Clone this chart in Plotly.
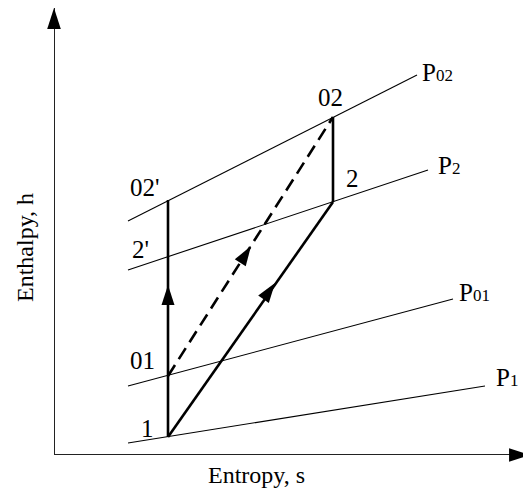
import math
import plotly.graph_objects as go

# State points (entropy s, enthalpy h) in arbitrary units
state_names = ["1", "01", "2'", "02'", "2", "02"]
state_s = [114, 114, 114, 114, 279, 279]
state_h = [18, 79, 198, 255, 253, 338]

# Isobars: start/end (s, h)
isobar_names = ["P02", "P2", "P01", "P1"]
isobar_s0 = [74, 74, 74, 74]
isobar_h0 = [234, 185, 69, 12]
isobar_s1 = [363, 374, 399, 431]
isobar_h1 = [380, 285, 156, 69]
isobar_label_s = [366, 382, 403, 440]
isobar_label_h = [383, 290, 163, 78]
isobar_label_text = ["P<span style='font-size:17px'>02</span>",
                     "P<span style='font-size:17px'>2</span>",
                     "P<span style='font-size:17px'>01</span>",
                     "P<span style='font-size:17px'>1</span>"]

# State label positions
label_s = [93, 88, 86, 91, 298, 276]
label_h = [27, 94, 205, 268, 277, 358]

# Arrow tip positions along processes (s, h)
arrow_tip_s = [114, 221, 197]
arrow_tip_h = [170, 172, 209]

S_MAX = 476
H_MAX = 447

idx = {n: i for i, n in enumerate(state_names)}


def P(n):
    i = idx[n]
    return state_s[i], state_h[i]


fig = go.Figure()
FONT = "Liberation Serif, Times New Roman, serif"


def px(s):
    return s / S_MAX


def py(h):
    return h / H_MAX


# isobars
for i in range(len(isobar_names)):
    fig.add_trace(go.Scatter(x=[isobar_s0[i], isobar_s1[i]], y=[isobar_h0[i], isobar_h1[i]],
                             mode="lines", line=dict(color="black", width=1.1),
                             hoverinfo="skip", showlegend=False))
    fig.add_annotation(x=px(isobar_label_s[i]), y=py(isobar_label_h[i]), xref="paper", yref="paper",
                       text=isobar_label_text[i],
                       showarrow=False, xanchor="left", yanchor="middle",
                       font=dict(family=FONT, size=25, color="black"))

# processes
solid_paths = [("1", "02'"), ("1", "2"), ("2", "02")]
for a, b in solid_paths:
    (x0, y0), (x1, y1) = P(a), P(b)
    fig.add_trace(go.Scatter(x=[x0, x1], y=[y0, y1], mode="lines",
                             line=dict(color="black", width=2.6),
                             hoverinfo="skip", showlegend=False))
(x0, y0), (x1, y1) = P("01"), P("02")
fig.add_trace(go.Scatter(x=[x0, x1], y=[y0, y1], mode="lines",
                         line=dict(color="black", width=2.6, dash="13px,7px"),
                         hoverinfo="skip", showlegend=False))

# arrowheads along the processes
dirs = [("1", "02'"), ("1", "2"), ("01", "02")]
angles = []
for a, b in dirs:
    (x0, y0), (x1, y1) = P(a), P(b)
    angles.append(math.degrees(math.atan2(x1 - x0, y1 - y0)))
fig.add_trace(go.Scatter(x=arrow_tip_s, y=arrow_tip_h, mode="markers",
                         marker=dict(symbol="arrow", size=21, angle=angles, color="black",
                                     line=dict(width=0)),
                         hoverinfo="skip", showlegend=False))

# state labels
for i, n in enumerate(state_names):
    fig.add_annotation(x=px(label_s[i]), y=py(label_h[i]), xref="paper", yref="paper",
                       text=n, showarrow=False,
                       xanchor="center", yanchor="middle",
                       font=dict(family=FONT, size=25, color="black"))

# axes with arrows
fig.add_trace(go.Scatter(x=[0, 0], y=[0, H_MAX], mode="lines",
                         line=dict(color="#222", width=2), hoverinfo="skip", showlegend=False))
fig.add_trace(go.Scatter(x=[0, S_MAX], y=[0, 0], mode="lines",
                         line=dict(color="#222", width=2), hoverinfo="skip", showlegend=False))
fig.add_trace(go.Scatter(x=[0, S_MAX], y=[H_MAX, 0], mode="markers",
                         marker=dict(symbol="arrow", size=22, angle=[0, 90], color="black",
                                     line=dict(width=0)),
                         hoverinfo="skip", showlegend=False, cliponaxis=False))

# axis titles
fig.add_annotation(x=px(202), y=py(-20), xref="paper", yref="paper", text="Entropy, s",
                   showarrow=False,
                   font=dict(family=FONT, size=24, color="black"), xanchor="center", yanchor="middle")
fig.add_annotation(x=px(-29), y=py(207), xref="paper", yref="paper", text="Enthalpy, h",
                   showarrow=False, textangle=-90,
                   font=dict(family=FONT, size=24, color="black"), xanchor="center", yanchor="middle")

fig.update_layout(
    width=523, height=487,
    margin=dict(l=46, r=1, t=0, b=40, pad=0),
    paper_bgcolor="white", plot_bgcolor="white",
    xaxis=dict(range=[0, S_MAX], visible=False, fixedrange=True),
    yaxis=dict(range=[0, H_MAX], visible=False, fixedrange=True),
    showlegend=False,
)
fig.write_html("out.html")
